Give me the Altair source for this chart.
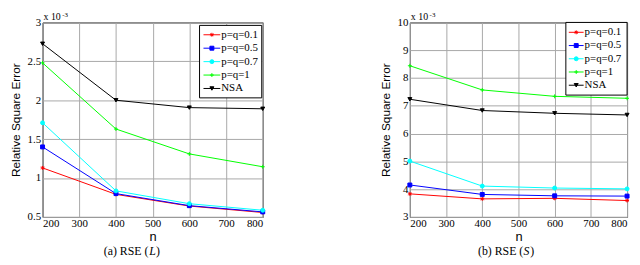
import altair as alt
import pandas as pd

N_VALUES = [200, 400, 600, 800]
SERIES = ["p=q=0.1", "p=q=0.5", "p=q=0.7", "p=q=1", "NSA"]
COLORS = ["#ff0000", "#0000ff", "#00ffff", "#00ff00", "#000000"]
ASTERISK = "M-1,0L1,0M0,-1L0,1M-0.7,-0.7L0.7,0.7M-0.7,0.7L0.7,-0.7"
PLUS = "M-1,0L1,0M0,-1L0,1"
SHAPES = [ASTERISK, "square", "circle", PLUS, "triangle-down"]

# RSE (L), units of 1e-3
L_P01 = [1.13, 0.79, 0.64, 0.557]
L_P05 = [1.40, 0.80, 0.645, 0.565]
L_P07 = [1.71, 0.835, 0.67, 0.586]
L_P1 = [2.48, 1.63, 1.31, 1.145]
L_NSA = [2.726, 2.00, 1.905, 1.89]

# RSE (S), units of 1e-3
S_P01 = [3.83, 3.65, 3.67, 3.59]
S_P05 = [4.15, 3.81, 3.76, 3.75]
S_P07 = [5.01, 4.11, 4.04, 4.01]
S_P1 = [8.44, 7.57, 7.34, 7.27]
S_NSA = [7.235, 6.83, 6.73, 6.67]

L_TICKS = [0.5, 1, 1.5, 2, 2.5, 3]
S_TICKS = [3, 4, 5, 6, 7, 8, 9, 10]
X_TICKS = [200, 300, 400, 500, 600, 700, 800]

SERIF = "Liberation Serif"
SANS = "Liberation Sans"


def long_table(series_values):
    rows = []
    for name, vals in zip(SERIES, series_values):
        for n, v in zip(N_VALUES, vals):
            rows.append({"n": n, "v": v, "series": name})
    return pd.DataFrame(rows)


def panel(series_values, ydomain, yticks, W, H, cap_left, cap_main, cap_var,
          box_left, box_top, box_w, row_top, row_step, line_x1, line_x2, text_x):
    df = long_table(series_values)
    color = alt.Color("series:N", scale=alt.Scale(domain=SERIES, range=COLORS), legend=None)
    stroke = alt.Stroke("series:N", scale=alt.Scale(domain=SERIES, range=COLORS), legend=None)
    shape = alt.Shape("series:N", scale=alt.Scale(domain=SERIES, range=SHAPES), legend=None)
    x = alt.X("n:Q", scale=alt.Scale(domain=[200, 800], nice=False),
              axis=alt.Axis(values=X_TICKS, title="n", labelExpr="'' + datum.value",
                            labelPadding=1, titlePadding=2))
    y = alt.Y("v:Q", scale=alt.Scale(domain=ydomain, nice=False, zero=False),
              axis=alt.Axis(values=yticks, title="Relative Square Error",
                            labelExpr="'' + datum.value",
                            labelPadding=2, titlePadding=5))
    base = alt.Chart(df)
    lines = base.mark_line(strokeWidth=1).encode(x=x, y=y, color=color)
    pts = base.mark_point(filled=True, size=16, strokeWidth=1, opacity=1).encode(
        x=x, y=y, color=color, stroke=stroke, shape=shape)

    leg = pd.DataFrame({"series": SERIES, "ly": [row_top + i * row_step for i in range(len(SERIES))]})
    one = pd.DataFrame({"a": [0]})
    box = alt.Chart(one).mark_rect(fill="white", stroke="black", strokeWidth=1).encode(
        x=alt.value(box_left), x2=alt.value(box_left + box_w),
        y=alt.value(box_top), y2=alt.value(row_top + 4 * row_step + (row_top - box_top)))
    lchart = alt.Chart(leg)
    lrules = lchart.mark_rule(strokeWidth=1).encode(
        x=alt.value(line_x1), x2=alt.value(line_x2), y=alt.Y("ly:Q", scale=None), color=color)
    lpts = lchart.mark_point(filled=True, size=16, strokeWidth=1, opacity=1).encode(
        x=alt.value((line_x1 + line_x2) / 2), y=alt.Y("ly:Q", scale=None),
        color=color, stroke=stroke, shape=shape)
    ltext = lchart.mark_text(align="left", baseline="middle", font=SERIF, fontSize=11,
                             color="black").encode(
        x=alt.value(text_x), y=alt.Y("ly:Q", scale=None), text="series:N")

    exp1 = alt.Chart(one).mark_text(text="x 10", align="left", baseline="alphabetic",
                                    font=SERIF, fontSize=10, color="black").encode(
        x=alt.value(1), y=alt.value(-2))
    exp2 = alt.Chart(one).mark_text(text="-3", align="left", baseline="alphabetic",
                                    font=SERIF, fontSize=7, color="black").encode(
        x=alt.value(20), y=alt.value(-6))

    cy = H + 39
    c1 = alt.Chart(one).mark_text(text=cap_main, align="left", baseline="alphabetic",
                                  font=SERIF, fontSize=12, color="black").encode(
        x=alt.value(cap_left), y=alt.value(cy))
    c2 = alt.Chart(one).mark_text(text=cap_var, align="left", baseline="alphabetic",
                                  font=SERIF, fontSize=12, fontStyle="italic", color="black").encode(
        x=alt.value(cap_left + 46), y=alt.value(cy))
    c3 = alt.Chart(one).mark_text(text=")", align="left", baseline="alphabetic",
                                  font=SERIF, fontSize=12, color="black").encode(
        x=alt.value(cap_left + 53), y=alt.value(cy))

    return alt.layer(lines, pts, box, lrules, lpts, ltext, exp1, exp2, c1, c2, c3).properties(
        width=W, height=H)


left = panel([L_P01, L_P05, L_P07, L_P1, L_NSA], [0.5, 3], L_TICKS, 223, 197,
             62, "(a) RSE (", "L",
             box_left=159, box_top=3, box_w=63, row_top=12.5, row_step=13.6,
             line_x1=163, line_x2=180, text_x=181)
right = panel([S_P01, S_P05, S_P07, S_P1, S_NSA], [3, 10], S_TICKS, 220, 197,
              69, "(b) RSE (", "S",
              box_left=158, box_top=0, box_w=62, row_top=10, row_step=13.4,
              line_x1=161, line_x2=176, text_x=177)

chart = alt.hconcat(left, right, spacing=112).properties(padding=0).configure_view(
    stroke="#000000", strokeWidth=1
).configure_axis(
    domain=False, ticks=False, grid=True, gridColor="#a8a8a8", gridWidth=1, gridOpacity=1,
    labelFont=SERIF, labelFontSize=11, labelColor="#000000",
    titleFont=SANS, titleFontSize=12, titleFontWeight="normal", titleColor="#000000"
).configure_axisX(titleFontSize=13)

chart.save("out.html", embed_options={"renderer": "svg", "actions": False})
